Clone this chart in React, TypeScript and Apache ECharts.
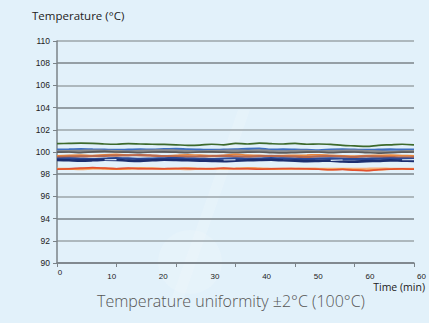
import React, { useEffect, useRef } from "react";
import * as echarts from "echarts";

const times = [0, 2, 4, 6, 8, 10, 12, 14, 16, 18, 20, 22, 24, 26, 28, 30, 32, 34, 36, 38, 40, 42, 44, 46, 48, 50, 52, 54, 56, 58, 60];

const greenSeries = [100.75, 100.78, 100.8, 100.78, 100.72, 100.7, 100.75, 100.72, 100.7, 100.68, 100.65, 100.6, 100.62, 100.7, 100.65, 100.78, 100.72, 100.8, 100.75, 100.72, 100.78, 100.7, 100.72, 100.68, 100.6, 100.55, 100.5, 100.6, 100.65, 100.7, 100.65];
const blueSeries = [100.2, 100.22, 100.25, 100.22, 100.2, 100.18, 100.2, 100.22, 100.2, 100.25, 100.28, 100.22, 100.2, 100.18, 100.2, 100.22, 100.28, 100.3, 100.2, 100.22, 100.2, 100.18, 100.15, 100.2, 100.22, 100.2, 100.18, 100.2, 100.22, 100.2, 100.2];
const graySeries = [100.05, 100.08, 100.1, 100.12, 100.1, 100.08, 100.05, 100.1, 100.12, 100.15, 100.12, 100.08, 100.05, 100.08, 100.1, 100.12, 100.1, 100.15, 100.08, 100.05, 100.08, 100.1, 100.05, 100.08, 100.1, 100.12, 100.08, 100.05, 100.0, 100.05, 100.08];
const darkGraySeries = [99.98, 100.0, 99.95, 100.02, 100.05, 100.0, 99.98, 99.95, 100.0, 100.02, 99.98, 99.95, 100.0, 100.02, 99.98, 99.95, 99.98, 100.0, 99.95, 99.92, 99.95, 99.98, 100.0, 99.95, 99.98, 100.0, 99.95, 99.9, 99.95, 99.98, 100.0];
const orangeMidSeries = [99.65, 99.7, 99.72, 99.68, 99.75, 99.78, 99.72, 99.7, 99.68, 99.65, 99.7, 99.75, 99.72, 99.68, 99.7, 99.78, 99.72, 99.7, 99.65, 99.68, 99.7, 99.72, 99.75, 99.7, 99.65, 99.62, 99.68, 99.7, 99.72, 99.68, 99.65];
const brownSeries = [99.55, 99.58, 99.6, 99.62, 99.65, 99.68, 99.7, 99.72, 99.68, 99.62, 99.6, 99.58, 99.6, 99.62, 99.65, 99.6, 99.58, 99.62, 99.65, 99.6, 99.58, 99.55, 99.6, 99.62, 99.58, 99.55, 99.6, 99.58, 99.55, 99.52, 99.55];
const navySeries = [99.4, 99.42, 99.38, 99.35, 99.4, 99.45, 99.42, 99.38, 99.4, 99.42, 99.45, 99.4, 99.38, 99.35, 99.4, 99.42, 99.38, 99.4, 99.45, 99.42, 99.38, 99.35, 99.4, 99.42, 99.38, 99.35, 99.38, 99.4, 99.42, 99.4, 99.38];
const darkNavySeries = [99.28, 99.25, 99.22, 99.25, 99.3, 99.28, 99.22, 99.2, 99.25, 99.3, 99.28, 99.25, 99.22, 99.2, 99.18, 99.22, 99.25, 99.28, 99.3, 99.25, 99.22, 99.18, 99.2, 99.22, 99.15, 99.12, 99.18, 99.2, 99.25, 99.22, 99.2];
const lightBlueSeries = [null, null, null, null, 99.3, 99.32, null, null, null, null, null, null, null, null, 99.28, 99.3, null, null, null, null, null, null, null, 99.25, 99.28, null, null, null, null, 99.3, 99.32];
const lightOrangeSeries = [98.5, 98.48, 98.45, 98.5, 98.52, 98.5, 98.48, 98.5, 98.52, 98.5, 98.48, 98.45, 98.5, 98.52, 98.5, 98.48, 98.5, 98.52, 98.5, 98.48, 98.5, 98.52, 98.5, 98.48, 98.5, 98.48, 98.5, 98.52, 98.5, 98.48, 98.5];
const orangeSeries = [98.45, 98.45, 98.5, 98.55, 98.5, 98.45, 98.5, 98.55, 98.52, 98.48, 98.5, 98.55, 98.5, 98.48, 98.5, 98.52, 98.55, 98.5, 98.45, 98.48, 98.5, 98.48, 98.45, 98.42, 98.45, 98.4, 98.35, 98.42, 98.45, 98.48, 98.45];
const redSeries = [98.45, 98.5, 98.55, 98.6, 98.55, 98.5, 98.55, 98.5, 98.48, 98.5, 98.52, 98.5, 98.48, 98.5, 98.55, 98.5, 98.48, 98.45, 98.5, 98.52, 98.5, 98.48, 98.45, 98.4, 98.42, 98.35, 98.32, 98.4, 98.45, 98.5, 98.45];

const xTickLabels = ["0", "10", "20", "30", "40", "50", "60", "60"];

const seriesDefs = [
  { name: "S1", data: greenSeries, color: "#3d6a2c", width: 1.7 },
  { name: "S2", data: blueSeries, color: "#3f6fc0", width: 2.4 },
  { name: "S3", data: graySeries, color: "#8c8c8c", width: 2.4 },
  { name: "S4", data: darkGraySeries, color: "#5b5b5b", width: 1.7 },
  { name: "S5", data: orangeMidSeries, color: "#e8863c", width: 1.7 },
  { name: "S6", data: brownSeries, color: "#b8694e", width: 2.2 },
  { name: "S7", data: navySeries, color: "#2a4a98", width: 2.4 },
  { name: "S8", data: darkNavySeries, color: "#1c2f70", width: 2.6 },
  { name: "S9", data: lightBlueSeries, color: "#d8e6f6", width: 1.2 },
  { name: "S10", data: lightOrangeSeries, color: "#f6b07a", width: 2 },
  { name: "S11", data: orangeSeries, color: "#f07f30", width: 1.7 },
  { name: "S12", data: redSeries, color: "#e2502e", width: 1.5 },
];

const DARK = "#7b8388";
const LIGHT = "#9ba4a9";

export default function App() {
  const ref = useRef<HTMLDivElement>(null);
  useEffect(() => {
    if (!ref.current) return;
    const chart = echarts.init(ref.current, null, { renderer: "svg" });
    const labelFont = "'Liberation Sans', Arial, sans-serif";
    const titleFont = "'Open Sans', 'Noto Sans', sans-serif";
    chart.setOption({
      animation: false,
      backgroundColor: "#e2f1fa",
      graphic: [
        {
          type: "polygon",
          silent: true,
          z: -10,
          shape: { points: [[238, 110], [250, 110], [183, 300], [171, 300]] },
          style: { fill: "rgba(255,255,255,0.15)" },
        },
        {
          type: "circle",
          silent: true,
          z: -10,
          shape: { cx: 190, cy: 262, r: 32 },
          style: { fill: "rgba(255,255,255,0.14)" },
        },
        {
          type: "text",
          left: 32,
          top: 9,
          style: { text: "Temperature (°C)", fontSize: 11.5, fill: "#222", fontFamily: titleFont },
        },
        {
          type: "text",
          right: 4,
          top: 281,
          style: { text: "Time (min)", fontSize: 10.5, fill: "#222", fontFamily: titleFont },
        },
        {
          type: "text",
          left: 97,
          top: 293,
          style: {
            text: "Temperature uniformity ±2°C (100°C)",
            fontSize: 16,
            fill: "#555",
            fontFamily: titleFont,
            fontWeight: 300,
          },
        },
      ],
      grid: [
        { left: 57, right: 15, top: 41, bottom: 60, containLabel: false },
        { left: 60, right: 4, top: 41, bottom: 60, containLabel: false },
      ],
      xAxis: [
        {
          type: "value",
          gridIndex: 0,
          min: 0,
          max: 60,
          interval: 10,
          axisLine: { show: true, lineStyle: { color: DARK, width: 1.5 } },
          axisTick: { show: true, length: 4, lineStyle: { color: DARK } },
          axisLabel: { show: false },
          splitLine: { show: false },
        },
        {
          type: "category",
          gridIndex: 1,
          data: xTickLabels.map((v, i) =>
            i === 0 ? { value: v, textStyle: { verticalAlign: "middle" } } : v
          ),
          boundaryGap: false,
          axisLine: { show: false },
          axisTick: { show: false },
          splitLine: { show: false },
          axisLabel: { show: true, margin: 9, fontSize: 8, color: "#222", fontFamily: labelFont, interval: 0 },
        },
      ],
      yAxis: [
        {
          type: "value",
          gridIndex: 0,
          min: 90,
          max: 110,
          interval: 2,
          axisLine: { show: true, lineStyle: { color: DARK, width: 1.5 } },
          axisTick: { show: true, length: 4, lineStyle: { color: DARK } },
          axisLabel: { margin: 7, fontSize: 8.5, color: "#222", fontFamily: labelFont },
          splitLine: {
            show: true,
            lineStyle: {
              color: [DARK, LIGHT, DARK, LIGHT, DARK, DARK, LIGHT, DARK, LIGHT, DARK, LIGHT],
              width: 1.6,
            },
          },
        },
        {
          type: "value",
          gridIndex: 1,
          show: false,
          min: 0,
          max: 1,
        },
      ],
      series: seriesDefs.map((s) => ({
        type: "line",
        name: s.name,
        xAxisIndex: 0,
        yAxisIndex: 0,
        data: s.data.map((v, i) => [times[i], v]),
        showSymbol: false,
        smooth: 0.3,
        connectNulls: false,
        lineStyle: { color: s.color, width: s.width },
        itemStyle: { color: s.color },
      })),
    });
    return () => chart.dispose();
  }, []);
  return (
    <div
      ref={ref}
      style={{ position: "fixed", left: 0, top: 0, width: 429, height: 323 }}
    />
  );
}
